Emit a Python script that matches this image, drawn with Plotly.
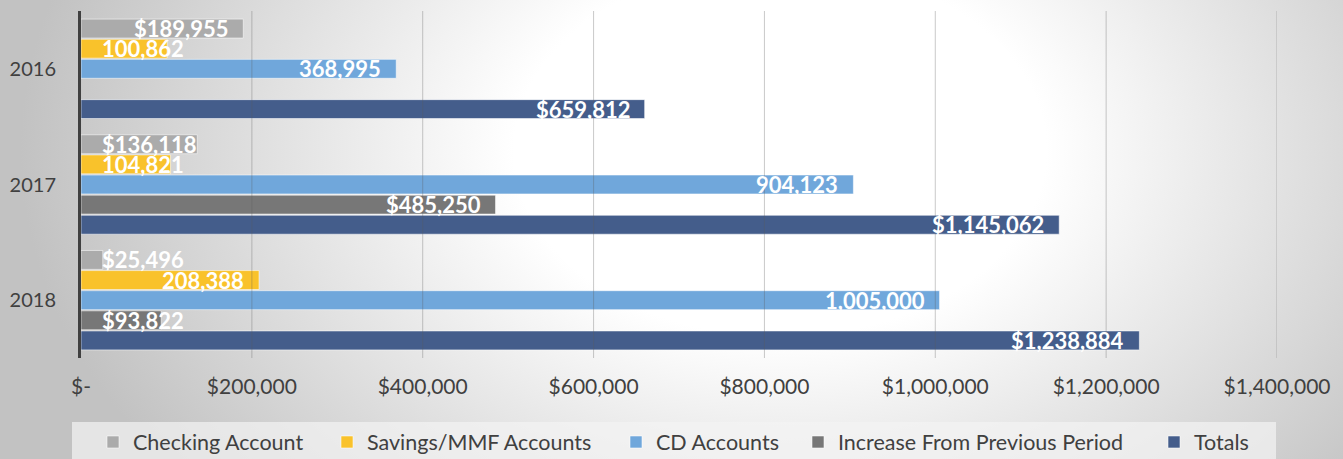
import base64
import plotly.graph_objects as go

# ---------------- data ----------------
years = ["2016", "2017", "2018"]
checking = [189955, 136118, 25496]
savings = [100862, 104821, 208388]
cd_accounts = [368995, 904123, 1005000]
increase = [None, 485250, 93822]
totals = [659812, 1145062, 1238884]

series_names = ["Checking Account", "Savings/MMF Accounts", "CD Accounts",
                "Increase From Previous Period", "Totals"]
series_values = [checking, savings, cd_accounts, increase, totals]
label_prefix = ["$", "", "", "$", "$"]

tick_vals = [0, 200000, 400000, 600000, 800000, 1000000, 1200000, 1400000]
tick_text = ["$-", "$200,000", "$400,000", "$600,000", "$800,000",
             "$1,000,000", "$1,200,000", "$1,400,000"]

# ---------------- style ----------------
colors = ["#ababab", "#f9c22b", "#70a7db", "#777777", "#445d8b"]
W, H = 1343, 459
ML, MR, MT, MB = 81, 66, 11, 101
PW, PH = W - ML - MR, H - MT - MB
BARGAP, GROUPGAP = 0.13, 0.06
XMAX = 1400000
FONT = "Lato"
TXT = "#404040"
LABEL_SIZE = 22

fig = go.Figure()
legend_ids = ["legend", "legend2", "legend3", "legend4", "legend5"]
for i, (name, vals) in enumerate(zip(series_names, series_values)):
    fig.add_trace(go.Bar(
        y=years, x=vals, name=name, orientation="h",
        marker=dict(color=colors[i], line=dict(color="rgba(255,255,255,0.55)", width=1)),
        legend=legend_ids[i], showlegend=True, hoverinfo="skip",
    ))

# data labels (Excel-like inside-end, clamped near the axis when too long)
px_per_unit = PW / XMAX
slot = (1 - BARGAP) / len(series_names)
annotations = []
for i, vals in enumerate(series_values):
    for k, v in enumerate(vals):
        if v is None:
            continue
        text = f"{label_prefix[i]}{v:,}"
        est_w = 11.7 * len(text)
        ypos = k - (1 - BARGAP) / 2 + slot * (i + 0.5)
        fits = v * px_per_unit - 14 - est_w >= 20
        annotations.append(dict(
            x=v if fits else 0, y=ypos, xref="x", yref="y", text=f"<b>{text}</b>",
            showarrow=False, xanchor="right" if fits else "left",
            xshift=-13 if fits else 19, yanchor="middle",
            font=dict(family=FONT, size=LABEL_SIZE, color="white")))

# gridlines above the bars
shapes = []
for tv in tick_vals[1:]:
    shapes.append(dict(type="line", xref="x", yref="paper", x0=tv, x1=tv, y0=0, y1=1,
                       line=dict(color="rgba(90,90,90,0.33)", width=1), layer="above"))


def px2paper_x(px):
    return (px - ML) / PW


def px2paper_y(py):
    return 1 - (py - MT) / PH


# legend band
shapes.append(dict(type="rect", xref="paper", yref="paper",
                   x0=px2paper_x(72), x1=px2paper_x(1276),
                   y0=px2paper_y(475), y1=px2paper_y(422),
                   fillcolor="rgba(244,244,244,0.7)", line=dict(width=0), layer="below"))

# background gradient as svg image
svg = f'''<svg xmlns="http://www.w3.org/2000/svg" width="{W}" height="{H}" viewBox="0 0 {W} {H}">
<defs><radialGradient id="g" gradientUnits="userSpaceOnUse" cx="780" cy="150" r="760"
gradientTransform="translate(780 150) scale(1 0.7) translate(-780 -150)">
<stop offset="0" stop-color="#ffffff"/><stop offset="0.35" stop-color="#ffffff"/>
<stop offset="1" stop-color="#c2c2c2"/></radialGradient></defs>
<rect width="{W}" height="{H}" fill="url(#g)"/></svg>'''
svg_uri = "data:image/svg+xml;base64," + base64.b64encode(svg.encode()).decode()

legend_text_start = [133, 367, 656, 838, 1194]
legends = {}
for lid, tx in zip(legend_ids, legend_text_start):
    legends[lid] = dict(x=px2paper_x(tx - 40), y=px2paper_y(442), xanchor="left", yanchor="middle",
                        orientation="h", bgcolor="rgba(0,0,0,0)",
                        font=dict(family=FONT, size=21.5, color=TXT))

fig.update_layout(
    width=W, height=H, autosize=False, showlegend=True,
    margin=dict(l=ML, r=MR, t=MT, b=MB, autoexpand=False),
    barmode="group", bargap=BARGAP, bargroupgap=GROUPGAP,
    paper_bgcolor="#d0d0d0", plot_bgcolor="rgba(0,0,0,0)",
    font=dict(family=FONT, color=TXT),
    annotations=annotations, shapes=shapes,
    images=[dict(source=svg_uri, xref="paper", yref="paper",
                 x=-ML / PW, y=1 + MT / PH, sizex=W / PW, sizey=H / PH,
                 xanchor="left", yanchor="top", sizing="stretch", layer="below")],
    xaxis=dict(range=[0, XMAX], tickvals=tick_vals, ticktext=tick_text,
               showgrid=False, zeroline=False, showline=False, ticks="",
               ticklabelstandoff=14, automargin=False,
               tickfont=dict(family=FONT, size=21, color=TXT), fixedrange=True),
    yaxis=dict(type="category", autorange="reversed", showgrid=False, zeroline=False,
               showline=True, linecolor="#404040", linewidth=3, ticks="",
               ticklabelstandoff=18, automargin=False,
               tickfont=dict(family=FONT, size=20, color=TXT), fixedrange=True),
    **legends,
)

fig.write_html("out.html", config={"displayModeBar": False},
               post_script="document.body.style.margin='0';document.body.style.overflow='hidden';")
